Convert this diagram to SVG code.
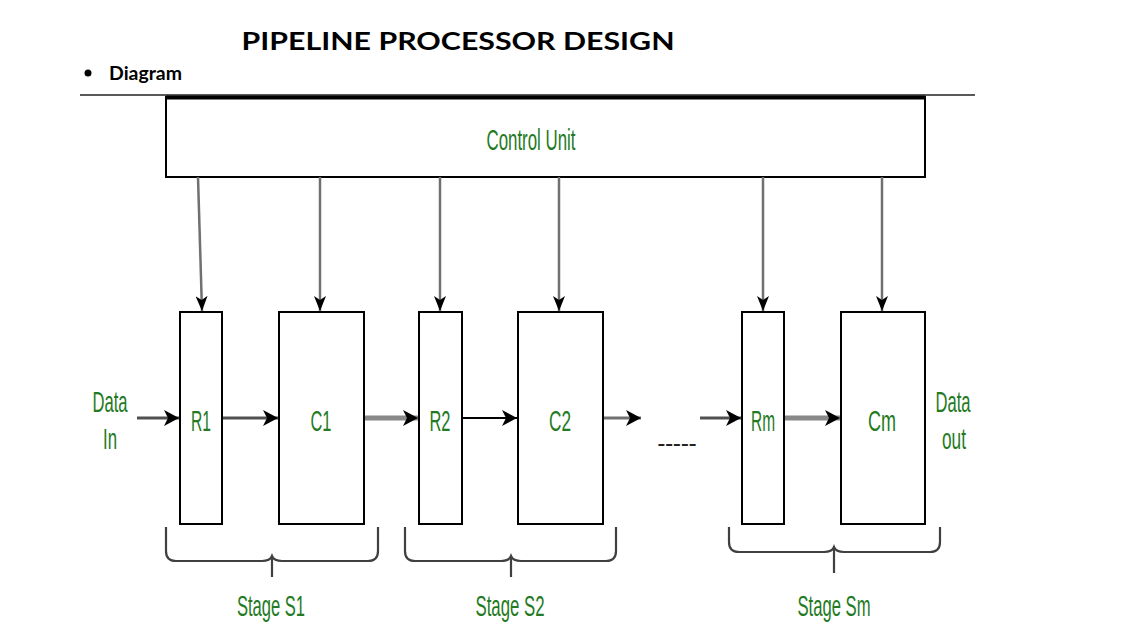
<svg xmlns="http://www.w3.org/2000/svg" width="1134" height="633" viewBox="0 0 1134 633">
<style>
.g{fill:#237a23;font-family:"Liberation Sans",Arial,sans-serif;font-size:29px;text-anchor:middle}
.box{fill:#fff;stroke:#000;stroke-width:2}
.v{stroke:#707070;stroke-width:2.5;fill:none}
.br{stroke:#404040;stroke-width:2.2;fill:none}
</style>
<defs>
<marker id="av" markerUnits="userSpaceOnUse" markerWidth="16" markerHeight="12" refX="15" refY="6" orient="auto" viewBox="0 0 16 12">
<path d="M0,0 L15,6 L0,12 L4,6 Z" fill="#000"/>
</marker>
<marker id="ah" markerUnits="userSpaceOnUse" markerWidth="16" markerHeight="16" refX="15" refY="8" orient="auto" viewBox="0 0 16 16">
<path d="M0,0 L15,8 L0,16 L4,8 Z" fill="#000"/>
</marker>
</defs>
<rect width="1134" height="633" fill="#fff"/>
<text x="458" y="50" font-family="Lato,'Liberation Sans',sans-serif" font-weight="700" font-size="25" textLength="433" lengthAdjust="spacingAndGlyphs" text-anchor="middle" fill="#000">PIPELINE PROCESSOR DESIGN</text>
<circle cx="88" cy="73" r="3.5" fill="#000"/>
<text x="109" y="80" font-family="Lato,'Liberation Sans',sans-serif" font-weight="700" font-size="19" textLength="73" lengthAdjust="spacingAndGlyphs" fill="#000">Diagram</text>
<line x1="80" y1="95" x2="975" y2="95" stroke="#222" stroke-width="1.5"/>
<g id="control-unit">
<rect x="166" y="97" width="759" height="80" class="box"/>
<line x1="166" y1="97.5" x2="925" y2="97.5" stroke="#000" stroke-width="4"/>
<text x="531" y="150" class="g" font-size="27" textLength="89" lengthAdjust="spacingAndGlyphs">Control Unit</text>
</g>
<g id="R1"><rect x="180" y="312" width="42" height="212" class="box" stroke-width="1.5"/><text x="201" y="431" class="g" textLength="20" lengthAdjust="spacingAndGlyphs">R1</text></g>
<g id="C1"><rect x="279" y="312" width="85" height="212" class="box"/><text x="321" y="431" class="g" textLength="21" lengthAdjust="spacingAndGlyphs">C1</text></g>
<g id="R2"><rect x="419" y="312" width="43" height="212" class="box" stroke-width="1.5"/><text x="440" y="431" class="g" textLength="21" lengthAdjust="spacingAndGlyphs">R2</text></g>
<g id="C2"><rect x="518" y="312" width="85" height="212" class="box"/><text x="560" y="431" class="g" textLength="22" lengthAdjust="spacingAndGlyphs">C2</text></g>
<g id="Rm"><rect x="742" y="312" width="42" height="212" class="box" stroke-width="1.5"/><text x="763" y="431" class="g" textLength="24" lengthAdjust="spacingAndGlyphs">Rm</text></g>
<g id="Cm"><rect x="841" y="312" width="84" height="212" class="box"/><text x="882" y="431" class="g" textLength="28" lengthAdjust="spacingAndGlyphs">Cm</text></g>
<g id="data-in"><text x="110" y="412" class="g" textLength="35" lengthAdjust="spacingAndGlyphs">Data</text><text x="110" y="449" class="g" textLength="14" lengthAdjust="spacingAndGlyphs">In</text></g>
<g id="data-out"><text x="953" y="412" class="g" textLength="35" lengthAdjust="spacingAndGlyphs">Data</text><text x="954" y="449" class="g" textLength="24" lengthAdjust="spacingAndGlyphs">out</text></g>
<g id="ellipsis"><text x="677" y="449" font-family="'Liberation Sans',sans-serif" font-size="16" font-weight="700" text-anchor="middle" textLength="39" lengthAdjust="spacingAndGlyphs" fill="#222">-----</text></g>
<g id="connectors">
<line x1="198" y1="177" x2="202" y2="311" class="v" marker-end="url(#av)"/>
<line x1="320" y1="177" x2="320" y2="311" class="v" marker-end="url(#av)"/>
<line x1="440" y1="177" x2="440" y2="311" class="v" marker-end="url(#av)"/>
<line x1="559" y1="177" x2="559" y2="311" class="v" marker-end="url(#av)"/>
<line x1="763" y1="177" x2="763" y2="311" class="v" marker-end="url(#av)"/>
<line x1="882" y1="177" x2="882" y2="311" class="v" marker-end="url(#av)"/>
<line x1="137" y1="418" x2="179" y2="418" stroke="#505050" stroke-width="3" marker-end="url(#ah)"/>
<line x1="223" y1="418" x2="278" y2="418" stroke="#505050" stroke-width="3" marker-end="url(#ah)"/>
<line x1="365" y1="418" x2="418" y2="418" stroke="#888" stroke-width="5" marker-end="url(#ah)"/>
<line x1="463" y1="418" x2="517" y2="418" stroke="#000" stroke-width="2" marker-end="url(#ah)"/>
<line x1="604" y1="418" x2="641" y2="418" stroke="#707070" stroke-width="3" marker-end="url(#ah)"/>
<line x1="700" y1="418" x2="741" y2="418" stroke="#505050" stroke-width="3" marker-end="url(#ah)"/>
<line x1="785" y1="418" x2="840" y2="418" stroke="#888" stroke-width="5" marker-end="url(#ah)"/>
</g>
<g id="stage-s1">
<path class="br" d="M166,527 V551 Q166,561 176,561 H262 Q270,561 272,556 Q274,561 282,561 H368 Q378,561 378,551 V527 M272,558 V577"/>
<text x="271" y="616" class="g" font-size="27" textLength="68" lengthAdjust="spacingAndGlyphs">Stage S1</text>
</g>
<g id="stage-s2">
<path class="br" d="M405,527 V551 Q405,561 415,561 H501 Q509,561 511,556 Q513,561 521,561 H606 Q616,561 616,551 V527 M511,558 V577"/>
<text x="510" y="616" class="g" font-size="27" textLength="69" lengthAdjust="spacingAndGlyphs">Stage S2</text>
</g>
<g id="stage-sm">
<path class="br" d="M729,527 V542 Q729,552 739,552 H824 Q832,552 834,547 Q836,552 844,552 H930 Q940,552 940,542 V527 M834,549 V573"/>
<text x="834" y="616" class="g" font-size="27" textLength="73" lengthAdjust="spacingAndGlyphs">Stage Sm</text>
</g>
</svg>
